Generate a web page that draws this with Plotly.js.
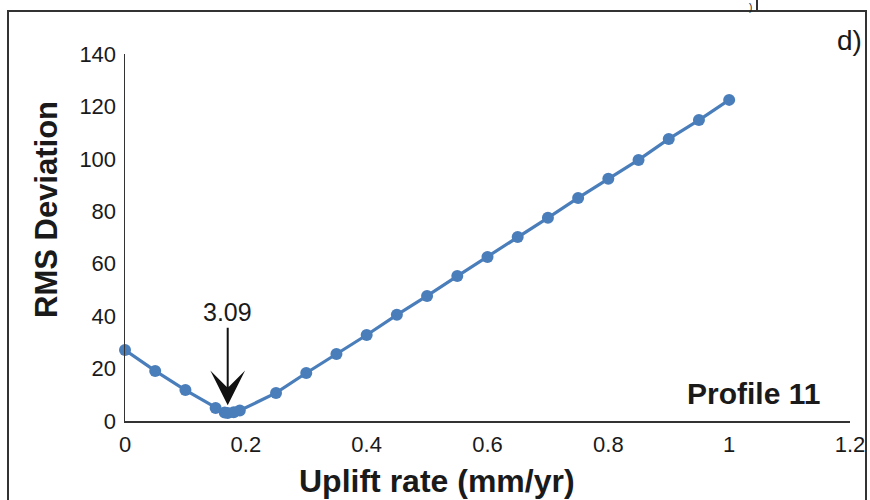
<!DOCTYPE html>
<html>
<head>
<meta charset="utf-8">
<script src="https://cdn.plot.ly/plotly-3.0.1.min.js"></script>
<style>html,body{margin:0;padding:0;background:#fff;}#chart{width:870px;height:500px;}</style>
</head>
<body>
<div id="chart"></div>
<script>
// Uplift rate (mm/yr)
const upliftRate = [0, 0.05, 0.1, 0.15, 0.165, 0.17, 0.18, 0.19, 0.25, 0.3, 0.35, 0.4, 0.45, 0.5, 0.55, 0.6, 0.65, 0.7, 0.75, 0.8, 0.85, 0.9, 0.95, 1.0];
// RMS Deviation
const rmsDeviation = [27.1, 19.1, 11.8, 5.0, 3.2, 3.09, 3.3, 4.0, 10.7, 18.3, 25.6, 32.8, 40.5, 47.7, 55.3, 62.6, 70.2, 77.5, 85.1, 92.4, 99.6, 107.6, 114.8, 122.5];
const xTicks = [0, 0.2, 0.4, 0.6, 0.8, 1, 1.2];
const yTicks = [0, 20, 40, 60, 80, 100, 120, 140];
const minLabel = "3.09";
const minX = 0.17;
const profileLabel = "Profile 11";
const panelLabel = "d)";

const FONT = '"Liberation Sans", Arial, Helvetica, sans-serif';
const BLUE = '#4A7EBB';
const DARK = '#1a1a1a';

const trace = {
  x: upliftRate, y: rmsDeviation,
  type: 'scatter', mode: 'lines+markers',
  line: {color: BLUE, width: 3.2},
  marker: {color: BLUE, size: 12},
  cliponaxis: false,
  hoverinfo: 'x+y'
};

const L = 125, R = 20, T = 54, B = 79;
const W = 870, H = 500;
const pw = W - L - R, ph = H - T - B;
const px = p => (p - L) / pw;           // pixel x -> paper
const py = p => (H - B - p) / ph;       // pixel y -> paper

const layout = {
  width: W, height: H,
  margin: {l: L, r: R, t: T, b: B, pad: 0},
  paper_bgcolor: '#fff', plot_bgcolor: '#fff',
  showlegend: false,
  font: {family: FONT, color: DARK},
  xaxis: {
    range: [0, 1.2], tickvals: xTicks, ticktext: xTicks.map(String),
    showgrid: false, zeroline: false, showline: true, linecolor: '#333', linewidth: 1.5,
    ticks: '', tickfont: {family: FONT, size: 22, color: DARK}, ticklabelstandoff: 3,
    fixedrange: true
  },
  yaxis: {
    range: [0, 140], tickvals: yTicks, ticktext: yTicks.map(String),
    showgrid: false, zeroline: false, showline: true, linecolor: '#333', linewidth: 1.5,
    ticks: '', tickfont: {family: FONT, size: 22, color: DARK}, ticklabelstandoff: 3,
    fixedrange: true
  },
  shapes: [
    // outer frame
    {type: 'line', xref: 'paper', yref: 'paper', x0: px(8), x1: px(8), y0: py(11), y1: py(505), line: {color: '#333', width: 2}},
    {type: 'line', xref: 'paper', yref: 'paper', x0: px(866), x1: px(866), y0: py(11), y1: py(505), line: {color: '#333', width: 2}},
    {type: 'line', xref: 'paper', yref: 'paper', x0: px(7), x1: px(867), y0: py(11), y1: py(11), line: {color: '#333', width: 2}},
    {type: 'line', xref: 'paper', yref: 'paper', x0: px(757), x1: px(757), y0: py(-2), y1: py(11), line: {color: '#333', width: 2}}
  ],
  annotations: [
    {text: '<b>Uplift rate (mm/yr)</b>', xref: 'paper', yref: 'paper', x: px(437), y: py(481),
     xanchor: 'center', yanchor: 'middle', showarrow: false, font: {family: FONT, size: 32, color: DARK}},
    {text: '<b>RMS Deviation</b>', xref: 'paper', yref: 'paper', x: px(47), y: py(210), textangle: -90,
     xanchor: 'center', yanchor: 'middle', showarrow: false, font: {family: FONT, size: 31, color: DARK}},
    {text: '<b>' + profileLabel + '</b>', xref: 'paper', yref: 'paper', x: px(753), y: py(393),
     xanchor: 'center', yanchor: 'middle', showarrow: false, font: {family: FONT, size: 30, color: DARK}},
    {text: panelLabel, xref: 'paper', yref: 'paper', x: px(849), y: py(40),
     xanchor: 'center', yanchor: 'middle', showarrow: false, font: {family: FONT, size: 28, color: DARK}},
    {text: ')', xref: 'paper', yref: 'paper', x: px(750), y: py(0),
     xanchor: 'center', yanchor: 'top', showarrow: false, font: {family: FONT, size: 10, color: DARK}},
    {text: minLabel, x: minX, y: 6, xref: 'x', yref: 'y', showarrow: true,
     ax: 0, ay: -93, arrowhead: 3, arrowsize: 2.9, arrowwidth: 2, arrowcolor: '#111',
     font: {family: FONT, size: 25, color: DARK}}
  ]
};

Plotly.newPlot('chart', [trace], layout, {displayModeBar: false, staticPlot: true});
</script>
</body>
</html>
